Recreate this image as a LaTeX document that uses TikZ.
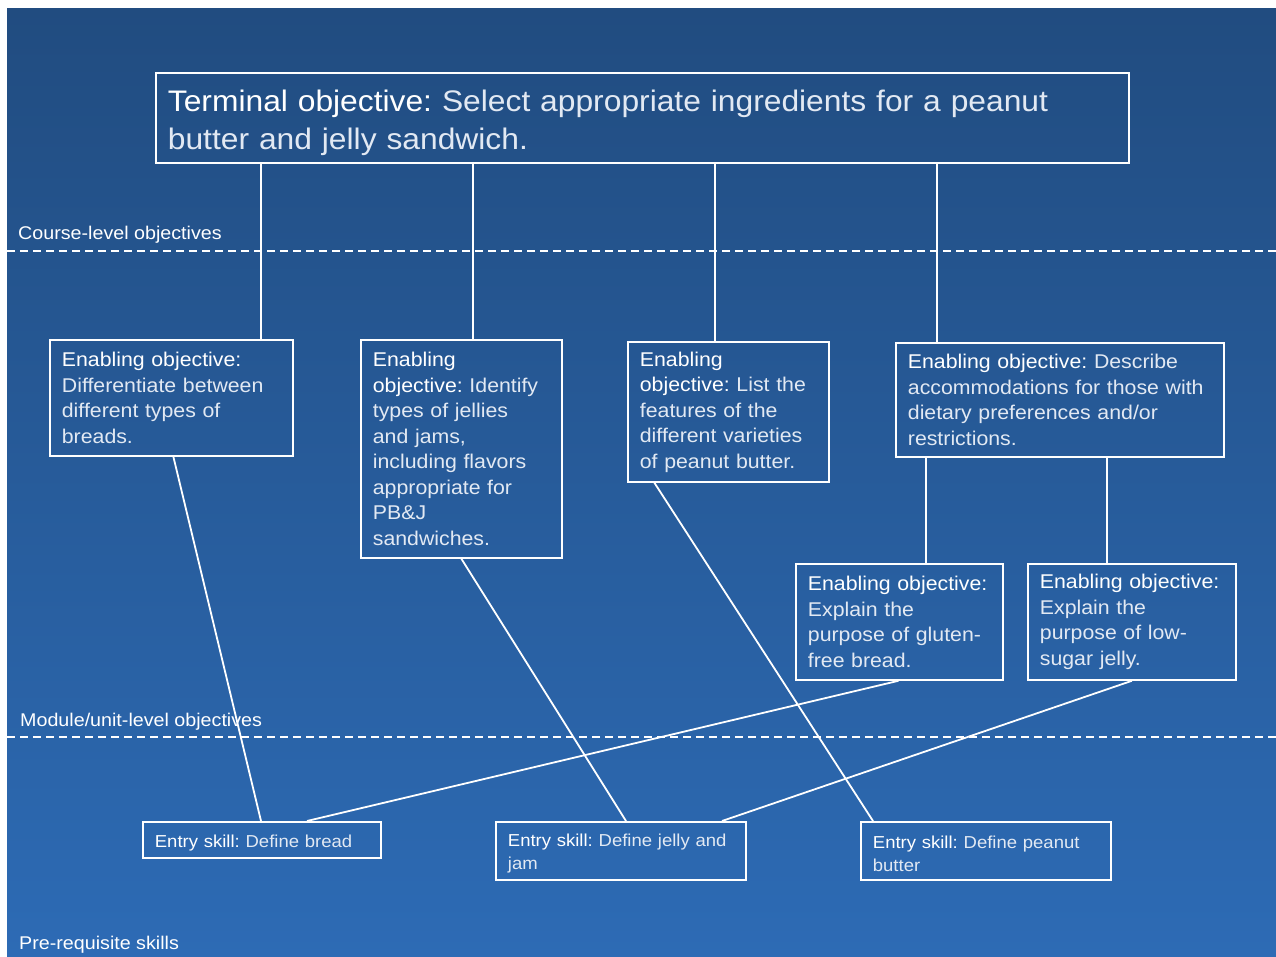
\documentclass[tikz,border=0pt]{standalone}
\usepackage{fontspec}
\setmainfont{Liberation Sans}[FakeStretch=1.07]
\usetikzlibrary{positioning,calc}
\frenchspacing

\definecolor{bgtop}{HTML}{214C80}
\definecolor{bgbot}{HTML}{2D6BB5}
\definecolor{softtext}{HTML}{E2E9F3}
\newcommand{\lead}[1]{\textcolor{white}{#1}}
\newcommand{\toppad}[1]{\rule{0pt}{#1}}

\tikzset{
  objbox/.style={draw=white, line width=1.8pt, text=softtext, align=left,
    anchor=north west, inner xsep=12pt, inner ysep=0pt},
  termbox/.style={objbox, font=\fontsize{29.7}{37.5}\selectfont},
  enbox/.style={objbox, font=\fontsize{19.9}{25.5}\selectfont},
  skillbox/.style={objbox, font=\fontsize{17.3}{23}\selectfont},
  levellabel/.style={text=white, anchor=base west, inner sep=0pt, font=\fontsize{18.4}{20}\selectfont},
  levelline/.style={white, line width=1.5pt, dash pattern=on 8pt off 5pt},
  link/.style={white, line width=1.8pt}
}

\begin{document}
\begin{tikzpicture}[x=1pt, y=-1pt]
  \useasboundingbox (0,0) rectangle (1276,957);
  \fill[white] (0,0) rectangle (1276,957);
  \shade[top color=bgtop, bottom color=bgbot] (7,9) rectangle (1276,957);

  % levels
  \draw[levelline] (7,251) -- (1276,251);
  \draw[levelline] (7,737) -- (1276,737);
  \node[levellabel] (lvcourse) at (18,240) {Course-level objectives};
  \node[levellabel] (lvmodule) at (20,726) {Module/unit-level objectives};
  \node[levellabel] (lvpre) at (19,949) {Pre-requisite skills};

  % terminal objective
  \node[termbox, text width=949pt, minimum height=90pt] (term) at (155,72)
    {\toppad{31pt}\lead{Terminal objective:} Select appropriate ingredients for a peanut\\butter and jelly sandwich.};

  % enabling objectives
  \node[enbox, text width=219pt, minimum height=116pt] (en1) at (49,339)
    {\lead{Enabling objective:}\\Differentiate between\\different types of\\breads.};
  \node[enbox, text width=177pt, minimum height=218pt] (en2) at (360,339)
    {\lead{Enabling}\\\lead{objective:} Identify\\types of jellies\\and jams,\\including flavors\\appropriate for\\PB\&J\\sandwiches.};
  \node[enbox, text width=177pt, minimum height=140pt] (en3) at (627,341)
    {\lead{Enabling}\\\lead{objective:} List the\\features of the\\different varieties\\of peanut butter.};
  \node[enbox, text width=304pt, minimum height=114pt] (en4) at (895,342)
    {\lead{Enabling objective:} Describe\\accommodations for those with\\dietary preferences and/or\\restrictions.};
  \node[enbox, text width=183pt, minimum height=116pt] (en5) at (795,563)
    {\lead{Enabling objective:}\\Explain the\\purpose of gluten-\\free bread.};
  \node[enbox, text width=184pt, minimum height=116pt] (en6) at (1027,563)
    {\lead{Enabling objective:}\\Explain the\\purpose of low-\\sugar jelly.};

  % entry skills
  \node[skillbox, text width=214pt, minimum height=36pt] (sk1) at (142,821)
    {\toppad{18pt}\lead{Entry skill:} Define bread};
  \node[skillbox, text width=226pt, minimum height=58pt] (sk2) at (495,821)
    {\toppad{18pt}\lead{Entry skill:} Define jelly and\\jam};
  \node[skillbox, text width=226pt, minimum height=58pt] (sk3) at (860,821)
    {\toppad{18pt}\lead{Entry skill:} Define peanut\\butter};

  % attachment points
  \coordinate (en1top) at ([xshift=212pt]en1.north west);
  \coordinate (en2top) at ([xshift=113pt]en2.north west);
  \coordinate (en3top) at ([xshift=88pt]en3.north west);
  \coordinate (en4top) at ([xshift=42pt]en4.north west);
  \coordinate (en4left) at ([xshift=31pt]en4.south west);
  \coordinate (en4right) at ([xshift=212pt]en4.south west);
  \coordinate (sk1a) at ([xshift=119pt]sk1.north west);
  \coordinate (sk1b) at ([xshift=165pt]sk1.north west);
  \coordinate (sk2a) at ([xshift=131pt]sk2.north west);
  \coordinate (sk2b) at ([xshift=227pt]sk2.north west);
  \coordinate (sk3a) at ([xshift=13pt]sk3.north west);

  % links
  \draw[link] (en1top |- term.south) -- (en1top);
  \draw[link] (en2top |- term.south) -- (en2top);
  \draw[link] (en3top |- term.south) -- (en3top);
  \draw[link] (en4top |- term.south) -- (en4top);
  \draw[link] (en4left) -- (en4left |- en5.north);
  \draw[link] (en4right) -- (en4right |- en6.north);
  \draw[link] ([xshift=2pt]en1.south) -- (sk1a);
  \draw[link] (en2.south) -- (sk2a);
  \draw[link] ([xshift=-74pt]en3.south) -- (sk3a);
  \draw[link] ([xshift=-1pt]en5.south) -- (sk1b);
  \draw[link] (en6.south) -- (sk2b);
\end{tikzpicture}
\end{document}
